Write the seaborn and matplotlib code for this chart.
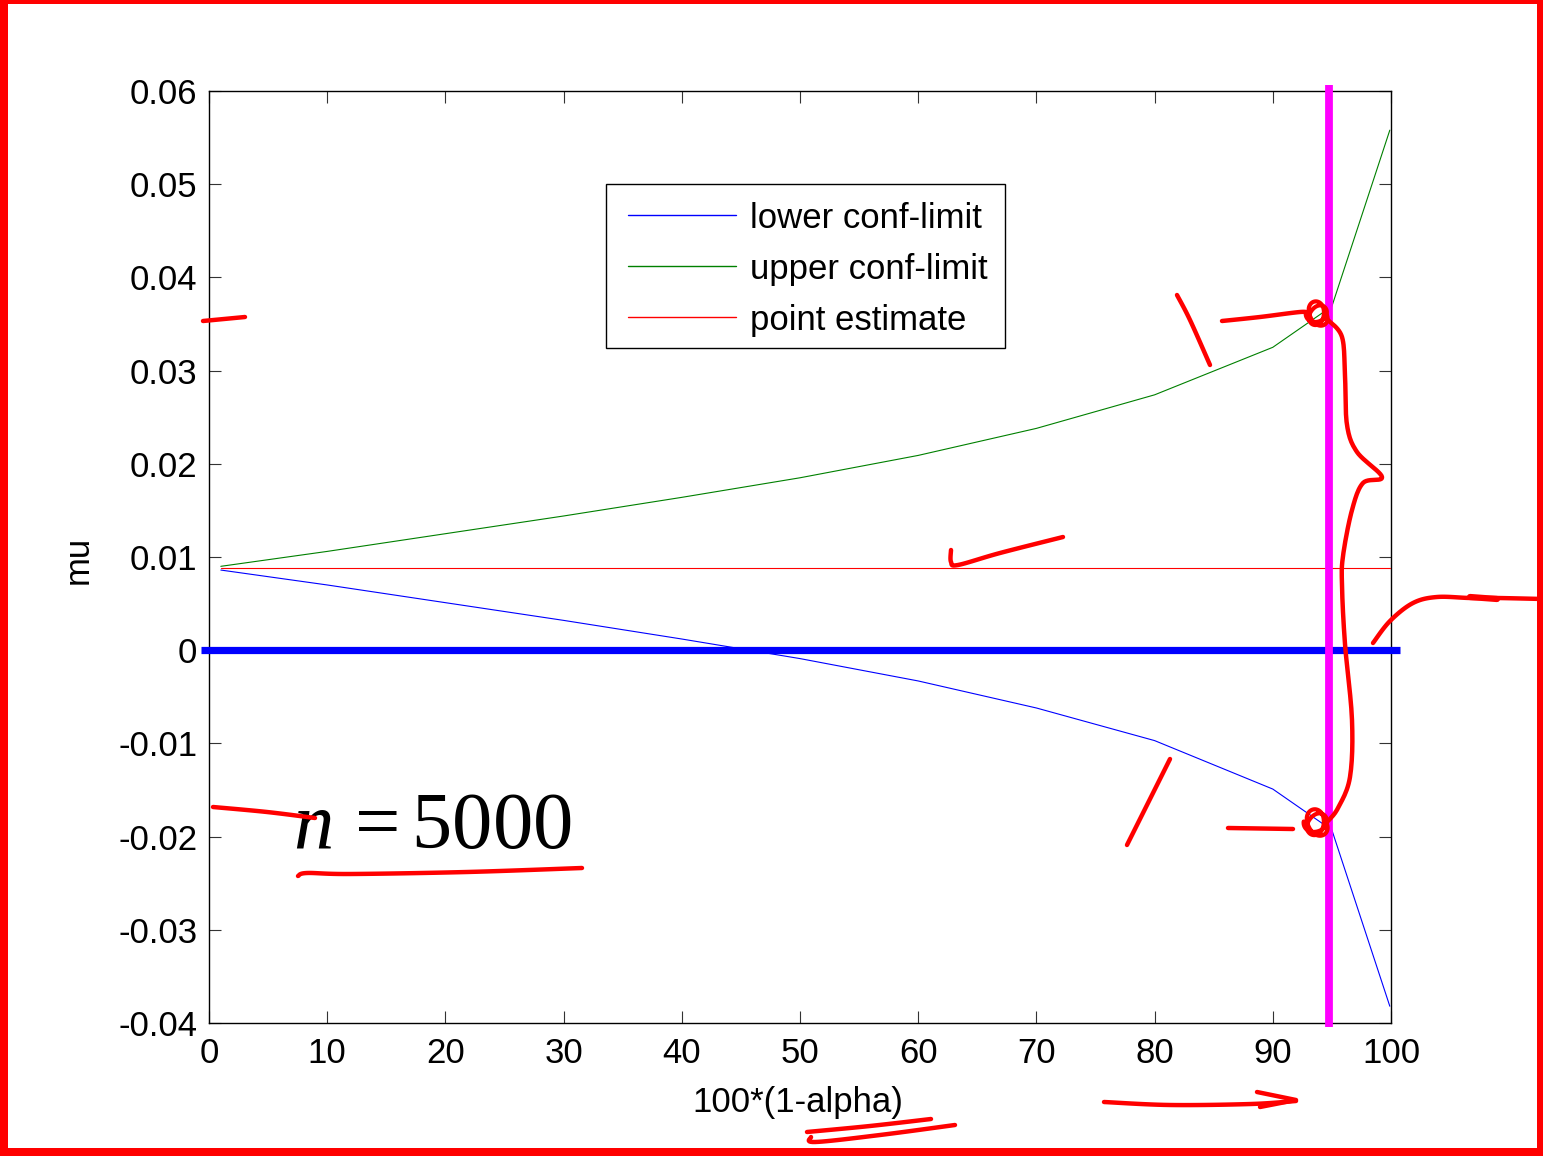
import numpy as np
import pandas as pd
import matplotlib
matplotlib.use("Agg")
import matplotlib.pyplot as plt
from matplotlib.lines import Line2D
from matplotlib.patches import Rectangle
import seaborn as sns

# confidence level (percent) and the interval limits for mu, n = 5000
conf_level = [1, 10, 20, 30, 40, 50, 60, 70, 80, 90, 95, 99.9]
lower_limit = [0.0086, 0.0070, 0.0051, 0.0032, 0.0012, -0.0009,
               -0.0033, -0.0062, -0.0097, -0.0149, -0.0193, -0.0382]
upper_limit = [0.0090, 0.0106, 0.0125, 0.0144, 0.0164, 0.0185,
               0.0209, 0.0238, 0.0274, 0.0325, 0.0369, 0.0558]
point_estimate = [0.0088] * len(conf_level)

series_names = ["lower conf-limit", "upper conf-limit", "point estimate"]
series_colors = ["#0000ff", "#008000", "#ff0000"]

x_ticks = [0, 10, 20, 30, 40, 50, 60, 70, 80, 90, 100]
y_ticks = [-0.04, -0.03, -0.02, -0.01, 0.0, 0.01, 0.02, 0.03, 0.04, 0.05, 0.06]
y_tick_labels = ["-0.04", "-0.03", "-0.02", "-0.01", "0", "0.01",
                 "0.02", "0.03", "0.04", "0.05", "0.06"]

W, H = 1543, 1159

sns.set_theme(style="white")
plt.rcParams["font.family"] = ["Liberation Sans", "DejaVu Sans"]
plt.rcParams["mathtext.fontset"] = "custom"
plt.rcParams["mathtext.rm"] = "Liberation Serif"
plt.rcParams["mathtext.it"] = "Liberation Serif:italic"
plt.rcParams["text.color"] = "black"

fig = plt.figure(figsize=(W / 100, H / 100), dpi=100)
fig.patch.set_facecolor("white")
ax = fig.add_axes([209 / W, 1 - 1023 / H, (1391 - 209) / W, (1023 - 91) / H])
ax.set_facecolor("white")

df = pd.DataFrame({
    "conf": conf_level * 3,
    "mu": lower_limit + upper_limit + point_estimate,
    "series": [series_names[0]] * len(conf_level)
              + [series_names[1]] * len(conf_level)
              + [series_names[2]] * len(conf_level),
})
for name, col in zip(series_names, series_colors):
    sns.lineplot(data=df[df["series"] == name], x="conf", y="mu", color=col,
                 linewidth=0.8, ax=ax, label=name, zorder=3)

ax.set_xlim(0, 100)
ax.set_ylim(-0.04, 0.06)
ax.set_xticks(x_ticks, labels=[str(t) for t in x_ticks])
ax.set_yticks(y_ticks, labels=y_tick_labels)
ax.tick_params(axis="both", which="both", direction="in", length=8.6, width=0.8,
               color="#333333", labelsize=25, labelcolor="black",
               top=True, right=True, bottom=True, left=True)
ax.tick_params(axis="y", pad=8.5)
ax.tick_params(axis="x", pad=10)
for sp in ax.spines.values():
    sp.set_visible(True)
    sp.set_color("black")
    sp.set_linewidth(1.0)

ax.set_xlabel("100*(1-alpha)", fontsize=25, color="black")
ax.set_ylabel("mu", fontsize=25, color="black")
ax.xaxis.set_label_coords(0.498, -0.068)
ax.yaxis.set_label_coords(-0.097, 0.497)

# legend: content placed inside a plain black box
leg = ax.legend(loc="upper left", bbox_to_anchor=(628 / W, 1 - 201.5 / H),
                bbox_transform=fig.transFigure, fontsize=25, frameon=False,
                handlelength=3.1, handletextpad=0.4,
                borderpad=0, labelspacing=0.52, borderaxespad=0)
for txt in leg.get_texts():
    txt.set_color("black")
for lh in leg.get_lines():
    lh.set_linewidth(1.0)
fig.add_artist(Rectangle((606 / W, 1 - 348 / H), (1005 - 606) / W, (348 - 184) / H,
                         transform=fig.transFigure, facecolor="none",
                         edgecolor="black", linewidth=1.0, zorder=4))

# reference lines: mu = 0 and the 95% level
ax.plot([-0.7, 100.8], [0, 0], color="#0000ff", linewidth=5.2,
        solid_capstyle="butt", clip_on=False, zorder=5)
ax.plot([94.75, 94.75], [0.0606, -0.0404], color="#ff00ff", linewidth=5.6,
        solid_capstyle="butt", clip_on=False, zorder=6)

ax.text(293 / W, 1 - 848 / H, r"$n\,= 5000$", transform=fig.transFigure,
        fontsize=58, color="black", ha="left", va="baseline")


# freehand pen strokes over the figure (pixel positions, y downwards)
def smooth(pts, n=12):
    pts = np.asarray(pts, float)
    if len(pts) < 3:
        return pts
    p = np.vstack([pts[0], pts, pts[-1]])
    out = []
    for i in range(1, len(p) - 2):
        p0, p1, p2, p3 = p[i - 1], p[i], p[i + 1], p[i + 2]
        for t in np.linspace(0, 1, n, endpoint=False):
            t2, t3 = t * t, t * t * t
            out.append(0.5 * ((2 * p1) + (-p0 + p2) * t
                              + (2 * p0 - 5 * p1 + 4 * p2 - p3) * t2
                              + (-p0 + 3 * p1 - 3 * p2 + p3) * t3))
    out.append(p[-2])
    return np.array(out)


def pen(pts, lw=3.2, do_smooth=True):
    arr = smooth(pts) if do_smooth else np.asarray(pts, float)
    fig.add_artist(Line2D(arr[:, 0] / W, 1 - arr[:, 1] / H, color="#ff0000",
                          linewidth=lw, solid_capstyle="round",
                          solid_joinstyle="round", zorder=20))


def loops(cx, cy, r, turns=2.5):
    t = np.linspace(0, 2 * np.pi * turns, 150)
    rr = r * (1 + 0.12 * np.sin(1.7 * t))
    xs = cx + rr * np.cos(t) + 2.0 * np.sin(0.8 * t)
    ys = cy + rr * np.sin(t) + 1.5 * np.cos(0.6 * t)
    pen(np.column_stack([xs, ys]), lw=3.0, do_smooth=False)


pen([(203, 321), (245, 317)])
pen([(951, 550), (951, 562), (958, 565), (1000, 553), (1063, 537)])
pen([(1177, 295), (1190, 320), (1210, 365)])
pen([(1222, 321), (1260, 317), (1300, 312), (1308, 313)])
loops(1317, 314, 10)
pen([(1328, 320), (1342, 337), (1345, 376), (1347, 425), (1357, 452),
     (1382, 477), (1363, 483), (1352, 510), (1343, 556), (1342, 586),
     (1345, 644), (1352, 720), (1350, 777), (1338, 808), (1328, 821)])
loops(1316, 823, 11)
pen([(1228, 828), (1293, 829)])
pen([(1170, 759), (1127, 845)])
pen([(1373, 643), (1390, 621), (1413, 603), (1437, 597), (1470, 598),
     (1497, 598), (1543, 599)])
pen([(1470, 597), (1497, 599)], lw=4.5)
pen([(213, 807), (267, 812), (315, 818)])
pen([(298, 876), (307, 873), (350, 874), (467, 872), (582, 868)])
pen([(807, 1132), (870, 1126), (931, 1119)])
pen([(811, 1137), (815, 1142), (880, 1135), (955, 1125)])
pen([(1104, 1102), (1170, 1105), (1251, 1104), (1296, 1101)])
pen([(1257, 1092), (1296, 1100), (1260, 1107)], do_smooth=False)

# red frame around the page
for x0, y0, w, h in [(0, 0, 8, 1156), (0, 0, 1543, 4),
                     (1537, 0, 6, 1156), (0, 1148, 1543, 8)]:
    fig.add_artist(Rectangle((x0 / W, 1 - (y0 + h) / H), w / W, h / H,
                             transform=fig.transFigure, facecolor="#ff0000",
                             edgecolor="none", zorder=30))

fig.savefig("out.png", dpi=100, facecolor="white")
